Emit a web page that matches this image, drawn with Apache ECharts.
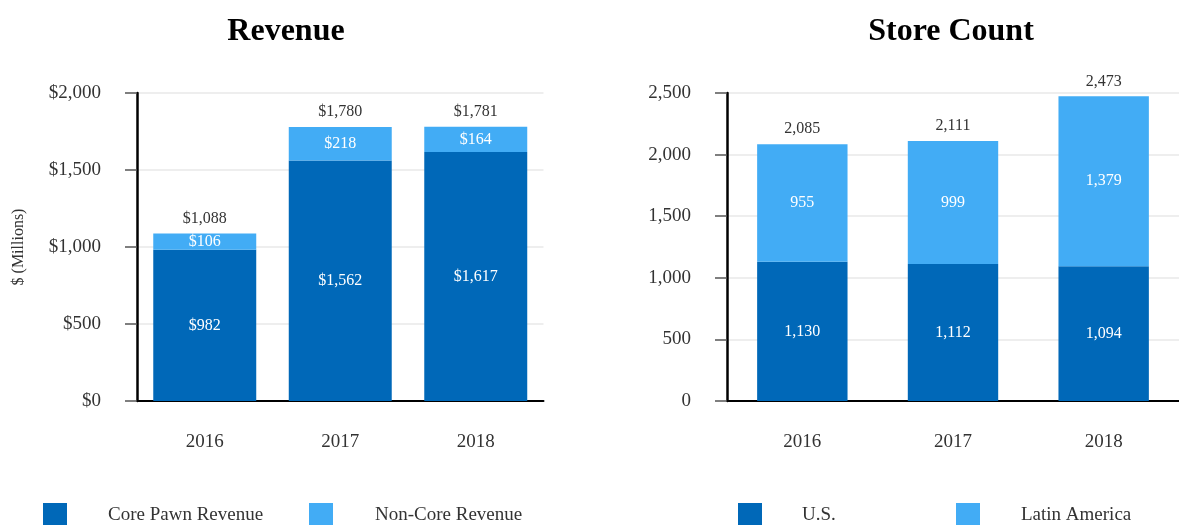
<!DOCTYPE html>
<html><head><meta charset="utf-8">
<script src="https://cdn.jsdelivr.net/npm/echarts@6/dist/echarts.min.js"></script>
<style>html,body{margin:0;padding:0;background:#fff}#c{width:1179px;height:525px}</style>
</head><body><div id="c"></div>
<script>
const years = ['2016', '2017', '2018'];
const corePawn = [982, 1562, 1617];
const nonCore = [106, 218, 164];
const revenueTotal = [1088, 1780, 1781];
const usStores = [1130, 1112, 1094];
const latamStores = [955, 999, 1379];
const storeTotal = [2085, 2111, 2473];
const revenueTicks = [0, 500, 1000, 1500, 2000];
const storeTicks = [0, 500, 1000, 1500, 2000, 2500];

const DARK = '#0068b8', LIGHT = '#42acf5';
const FONT = '"Liberation Serif", "Times New Roman", serif';
const fmtUSD = v => '$' + v.toLocaleString('en-US');
const fmtN = v => v.toLocaleString('en-US');

const chart = echarts.init(document.getElementById('c'), null, {renderer: 'canvas'});

function xAxis(i) {
  return {
    gridIndex: i, type: 'category', data: years,
    axisLine: {lineStyle: {color: '#000', width: 2}},
    axisTick: {alignWithLabel: true, length: 12, lineStyle: {color: '#555', width: 1.5}},
    axisLabel: {margin: 32, color: '#333', fontFamily: FONT, fontSize: 19}
  };
}
function yAxis(i, ticks, fmt, name) {
  return {
    gridIndex: i, type: 'value', min: ticks[0], max: ticks[ticks.length - 1],
    interval: ticks[1] - ticks[0],
    name: name || '', nameLocation: 'middle', nameGap: 110, nameRotate: 90,
    nameTextStyle: {fontFamily: FONT, fontSize: 16, color: '#333'},
    axisLine: {show: true, lineStyle: {color: '#000', width: 2.5}},
    axisTick: {show: true, length: 12, lineStyle: {color: '#555', width: 1.5}},
    axisLabel: {margin: 36, color: '#333', fontFamily: FONT, fontSize: 19, formatter: fmt},
    splitLine: {lineStyle: {color: '#e9e9e9', width: 1.5}}
  };
}
const inLabel = fmt => ({show: true, position: 'inside', color: '#fff', fontFamily: FONT, fontSize: 16, formatter: p => fmt(p.value)});
const topLabel = fmt => ({show: true, position: 'top', distance: 7, color: '#333', fontFamily: FONT, fontSize: 16, formatter: p => fmt(p.value)});

function legend(name, iconX, textX) {
  return {
    left: iconX, top: 498, itemWidth: 24, itemHeight: 24, icon: 'rect', data: [name],
    selectedMode: false,
    textStyle: {fontFamily: FONT, fontSize: 19, color: '#333', padding: [0, 0, 0, textX - iconX - 29]}
  };
}

chart.setOption({
  animation: false,
  title: [
    {text: 'Revenue', left: 281, top: 11, textAlign: 'center', textStyle: {fontFamily: FONT, fontSize: 32, fontWeight: 'bold', color: '#000'}},
    {text: 'Store Count', left: 946, top: 11, textAlign: 'center', textStyle: {fontFamily: FONT, fontSize: 32, fontWeight: 'bold', color: '#000'}}
  ],
  legend: [
    legend('Core Pawn Revenue', 38, 103),
    legend('Non-Core Revenue', 304, 370),
    legend('U.S.', 733, 797),
    legend('Latin America', 951, 1016)
  ],
  grid: [
    {left: 137, width: 406.5, top: 93, height: 308},
    {left: 727, width: 464, top: 93, height: 308}
  ],
  xAxis: [xAxis(0), xAxis(1)],
  yAxis: [yAxis(0, revenueTicks, fmtUSD, '$ (Millions)'), yAxis(1, storeTicks, fmtN)],
  series: [
    {name: 'Core Pawn Revenue', type: 'bar', stack: 'rev', xAxisIndex: 0, yAxisIndex: 0, barWidth: '76%', data: corePawn, itemStyle: {color: DARK}, label: inLabel(fmtUSD)},
    {name: 'Non-Core Revenue', type: 'bar', stack: 'rev', xAxisIndex: 0, yAxisIndex: 0, barWidth: '76%', data: nonCore, itemStyle: {color: LIGHT}, label: inLabel(fmtUSD)},
    {name: 'Revenue Total', type: 'bar', xAxisIndex: 0, yAxisIndex: 0, barWidth: '76%', barGap: '-100%', z: 1, data: revenueTotal, itemStyle: {color: 'rgba(0,0,0,0)'}, label: topLabel(fmtUSD), silent: true},
    {name: 'U.S.', type: 'bar', stack: 'st', xAxisIndex: 1, yAxisIndex: 1, barWidth: '60%', data: usStores, itemStyle: {color: DARK}, label: inLabel(fmtN)},
    {name: 'Latin America', type: 'bar', stack: 'st', xAxisIndex: 1, yAxisIndex: 1, barWidth: '60%', data: latamStores, itemStyle: {color: LIGHT}, label: inLabel(fmtN)},
    {name: 'Store Total', type: 'bar', xAxisIndex: 1, yAxisIndex: 1, barWidth: '60%', barGap: '-100%', z: 1, data: storeTotal, itemStyle: {color: 'rgba(0,0,0,0)'}, label: topLabel(fmtN), silent: true}
  ]
});
</script></body></html>
